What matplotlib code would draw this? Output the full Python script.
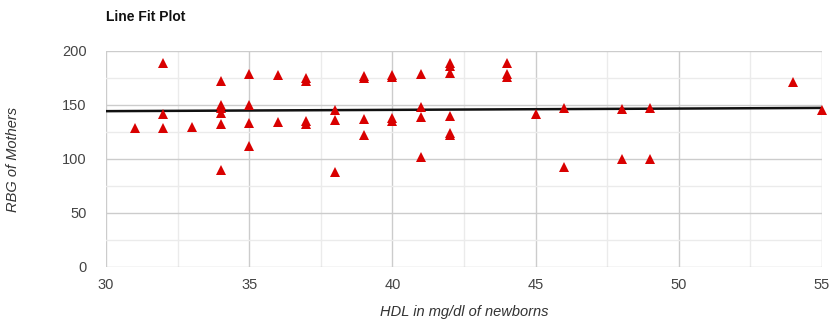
import matplotlib
matplotlib.use("Agg")
import matplotlib.pyplot as plt
import numpy as np

plt.rcParams['font.family'] = ['Liberation Sans', 'DejaVu Sans']

hdl = [31, 32, 32, 32, 33,
       34, 34, 34, 34, 34, 34,
       35, 35, 35, 35,
       36, 36,
       37, 37, 37, 37,
       38, 38, 38,
       39, 39, 39, 39,
       40, 40, 40, 40,
       41, 41, 41, 41,
       42, 42, 42, 42, 42, 42,
       44, 44, 44,
       45,
       46, 46,
       48, 48,
       49, 49,
       54, 55]
rbg = [129, 189, 142, 129, 130,
       172, 150, 147, 143, 132, 90,
       179, 150, 133, 112,
       178, 134,
       175, 172, 135, 132,
       145, 136, 88,
       177, 175, 137, 122,
       178, 176, 138, 135,
       179, 148, 139, 102,
       189, 186, 180, 140, 124, 122,
       189, 179, 176,
       142,
       147, 93,
       146, 100,
       147, 100,
       171, 145]

fit_x = [30, 55]
fit_y = [144.3, 147.3]

fig = plt.figure(figsize=(8.32, 3.22), dpi=100)
ax = fig.add_axes([106/832, 1-267/322, (822-106)/832, (267-51)/322])

ax.set_xlim(30, 55)
ax.set_ylim(0, 200)
ax.set_xticks([30, 35, 40, 45, 50, 55])
ax.set_yticks([0, 50, 100, 150, 200])
ax.set_xticks(np.arange(30, 55.1, 2.5), minor=True)
ax.set_yticks(np.arange(0, 200.1, 25), minor=True)
ax.grid(True, which='major', color='#cccccc', linewidth=1.0)
ax.grid(True, which='minor', color='#ebebeb', linewidth=1.0)
ax.set_axisbelow(True)
for s in ax.spines.values():
    s.set_visible(False)
ax.tick_params(which='both', length=0, labelsize=10.5, colors='#444444', pad=8)
ax.tick_params(axis='y', pad=14)

ax.plot(fit_x, fit_y, color='#111111', linewidth=1.8, zorder=2)
ax.plot(hdl, rbg, linestyle='none', marker='^', markersize=7,
        color='#d90000', markeredgewidth=0, zorder=3, clip_on=False)

ax.set_xlabel('HDL in mg/dl of newborns', fontstyle='italic', fontsize=10.5,
              color='#333333', labelpad=9)
ax.set_ylabel('RBG of Mothers', fontstyle='italic', fontsize=10.5,
              color='#333333', labelpad=30)
fig.text(106/832, 1-17/322, 'Line Fit Plot', fontweight='bold', fontsize=10,
         color='#111111', va='center', ha='left')

fig.savefig('out.png', dpi=100, facecolor='white')
